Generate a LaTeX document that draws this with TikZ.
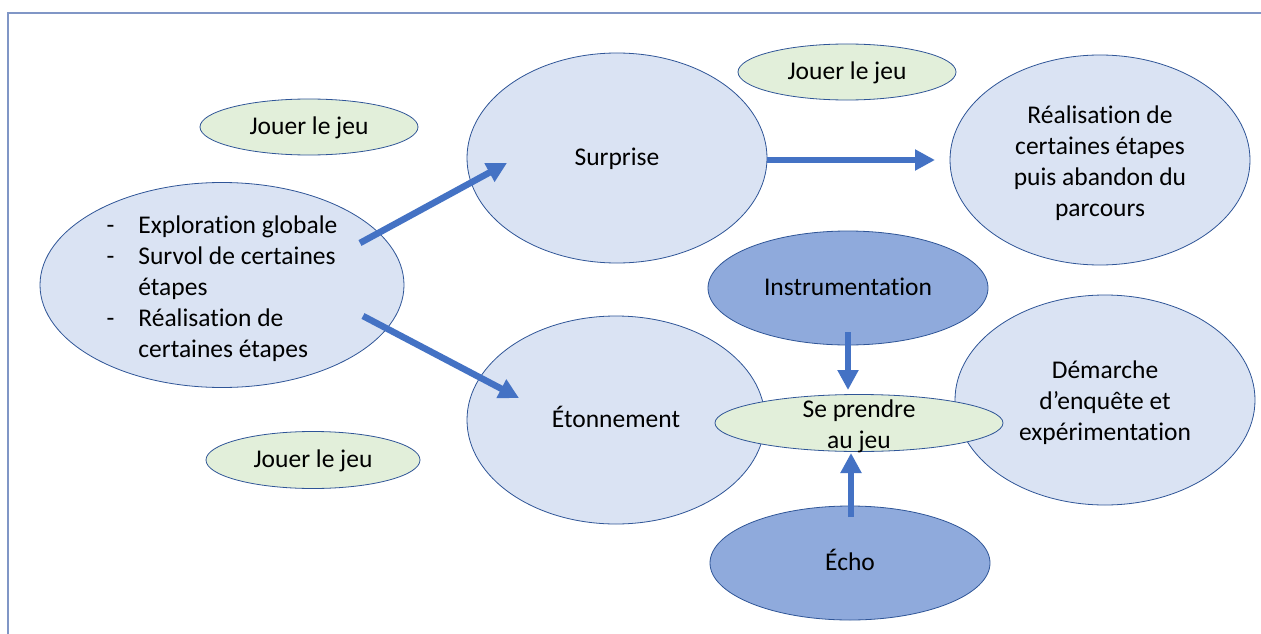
\documentclass[tikz,border=0pt]{standalone}
\usepackage{fontspec}
\setmainfont{Carlito}[Ligatures=NoCommon]
\usetikzlibrary{shapes.geometric,arrows.meta}
\definecolor{lightblue}{HTML}{DAE3F3}
\definecolor{edgeblue}{HTML}{2F5597}
\definecolor{lightgreen}{HTML}{E2EFDA}
\definecolor{darkblue}{HTML}{8FAADC}
\definecolor{arrowblue}{HTML}{4472C4}
\definecolor{framecol}{HTML}{8096C6}
\begin{document}
\begin{tikzpicture}[x=1pt,y=-1pt,
  every node/.style={font=\fontsize{25.5}{31}\selectfont, text=black},
  oval/.style={ellipse, draw=edgeblue, line width=0.8pt, inner sep=0pt},
  paleoval/.style={oval, fill=lightblue},
  greenoval/.style={oval, fill=lightgreen},
  darkoval/.style={oval, fill=darkblue},
  txt/.style={align=center, inner sep=0pt, yshift=-3pt},
  txtone/.style={inner sep=0pt, text height=19pt, text depth=5pt},
  bigarrow/.style={draw=arrowblue, line width=6.5pt, -{Triangle[width=20pt,length=20pt]}}
]
\useasboundingbox (0,0) rectangle (1261,634);
\fill[white] (0,0) rectangle (1261,634);
% frame
\coordinate (fbl) at (8,634);
\coordinate (ftl) at (8,13);
\coordinate (ftr) at (1261,13);
\draw[framecol, line width=1.5pt] (fbl) -- (ftl) -- (ftr);

% ellipses
\node[greenoval, minimum width=218pt, minimum height=56pt] (jeu1) at (309,127) {};
\node[txtone] (jeu1t) at (jeu1) {Jouer le jeu};
\node[greenoval, minimum width=214pt, minimum height=57pt] (jeu2) at (313,460) {};
\node[txtone] (jeu2t) at (jeu2) {Jouer le jeu};
\node[greenoval, minimum width=218pt, minimum height=56pt] (jeu3) at (847,72) {};
\node[txtone] (jeu3t) at (jeu3) {Jouer le jeu};

\node[paleoval, minimum width=364pt, minimum height=205pt] (left) at (222,285) {};
\node[txt, yshift=-1pt] (leftt) at (left) {%
  \begin{tabular}{@{}l@{\hspace{24pt}}l@{}}
  - & Exploration globale\\
  - & Survol de certaines\\
    & étapes\\
  - & Réalisation de\\
    & certaines étapes
  \end{tabular}};

\node[paleoval, minimum width=300pt, minimum height=210pt] (surprise) at (617,158) {};
\node[txtone] (surpriset) at (surprise) {Surprise};
\node[paleoval, minimum width=298pt, minimum height=208pt] (etonnement) at (616,420) {};
\node[txtone] (etonnementt) at (etonnement) {Étonnement};
\node[paleoval, minimum width=300pt, minimum height=210pt] (realisation) at (1100,160) {};
\node[txt] (realisationt) at (realisation) {Réalisation de\\certaines étapes\\puis abandon du\\parcours};
\node[paleoval, minimum width=300pt, minimum height=210pt] (demarche) at (1105,400) {};
\node[txt] (demarchet) at (demarche) {Démarche\\d’enquête et\\expérimentation};

\node[darkoval, minimum width=280pt, minimum height=114pt] (instru) at (848,288) {};
\node[txtone] (instrut) at (instru) {Instrumentation};
\node[darkoval, minimum width=280pt, minimum height=114pt] (echo) at (850,563) {};
\node[txtone] (echot) at (echo) {Écho};

\node[greenoval, minimum width=288pt, minimum height=57pt] (prendre) at (859,423) {};
\node[txt] (prendret) at (prendre) {Se prendre\\au jeu};

% arrow end points
\coordinate (a1s) at (360,243);
\coordinate (a1e) at (507,163);
\coordinate (a2s) at (363,316);
\coordinate (a2e) at (519,398);
\coordinate (a3s) at (767,160);
\coordinate (a3e) at (935,160);
\coordinate (a4s) at (848,332);
\coordinate (a4e) at (848,390);
\coordinate (a5s) at (851,517);
\coordinate (a5e) at (851,453);

\draw[bigarrow] (a1s) -- (a1e);
\draw[bigarrow] (a2s) -- (a2e);
\draw[bigarrow] (a3s) -- (a3e);
\draw[bigarrow] (a4s) -- (a4e);
\draw[bigarrow] (a5s) -- (a5e);
\end{tikzpicture}
\end{document}
